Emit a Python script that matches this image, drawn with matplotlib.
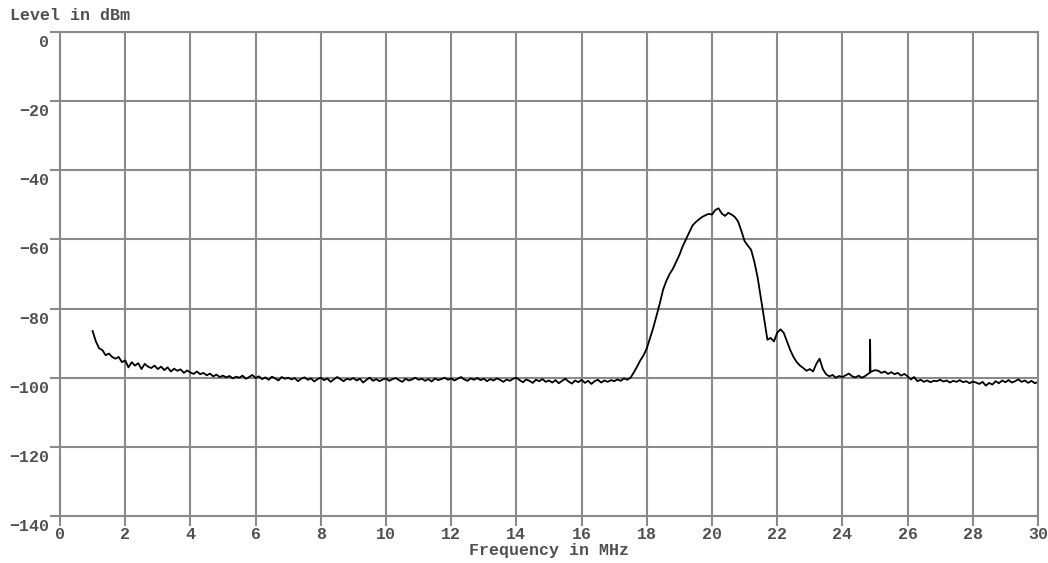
import numpy as np
import matplotlib
matplotlib.use("Agg")
import matplotlib.pyplot as plt
from matplotlib.transforms import ScaledTranslation

# ---- data ----
freq_start, freq_step = 1.0, 0.1
level = [
    # 1.0-2.0
    -86.5, -89.5, -91.5, -92.0, -93.5, -93.0, -94.0, -94.5, -94.0, -95.5, -95.0,
    # 2.1-3.0
    -97.0, -95.5, -96.5, -95.8, -97.5, -96.0, -96.8, -97.2, -96.5, -97.5,
    # 3.1-4.0
    -96.8, -97.8, -97.0, -98.2, -97.4, -98.0, -97.6, -98.6, -97.9, -98.5,
    # 4.1-5.0
    -98.9, -98.2, -99.0, -98.6, -99.3, -98.8, -99.6, -99.1, -99.8, -99.4,
    # 5.1-6.0
    -99.9, -99.5, -100.2, -99.7, -100.0, -99.4, -100.3, -99.8, -99.2, -100.1,
    # 6.1-7.0
    -99.6, -100.4, -99.9, -100.6, -99.7, -100.2, -100.8, -99.8, -100.3, -100.0,
    # 7.1-8.0
    -100.5, -100.1, -101.0, -100.3, -99.9, -100.6, -100.2, -101.1, -100.4, -100.0,
    # 8.1-9.0
    -100.7, -100.2, -101.2, -100.5, -99.8, -100.4, -101.0, -100.3, -100.6, -100.1,
    # 9.1-10.0
    -100.8, -100.3, -101.4, -100.6, -100.0, -100.9, -100.4, -101.0, -100.5, -100.2,
    # 10.1-11.0
    -100.9, -100.4, -100.1, -100.7, -101.2, -100.3, -100.8, -100.5, -100.0, -100.6,
    # 11.1-12.0
    -100.3, -100.9, -100.4, -101.1, -100.2, -100.7, -100.4, -100.0, -100.6, -100.2,
    # 12.1-13.0
    -100.8, -100.3, -99.8, -100.5, -100.9, -100.2, -100.6, -100.1, -100.7, -100.3,
    # 13.1-14.0
    -101.0, -100.4, -100.8, -100.2, -100.6, -101.2, -100.5, -100.9, -100.3, -100.0,
    # 14.1-15.0
    -100.7, -101.3, -100.5, -100.9, -101.5, -100.6, -101.0, -100.4, -101.2, -100.8,
    # 15.1-16.0
    -101.4, -100.7, -101.6, -100.9, -100.3, -101.1, -101.7, -100.8, -101.3, -100.6,
    # 16.1-17.0
    -101.5, -100.9, -101.8, -101.0, -100.6, -101.4, -100.8, -101.2, -100.7, -101.0,
    # 17.1-18.0
    -100.5, -100.9, -100.2, -100.6, -100.0, -98.5, -96.8, -95.0, -93.5, -91.5,
    # 18.1-19.0
    -88.5, -85.5, -82.0, -78.5, -74.5, -72.0, -70.0, -68.5, -66.5, -64.5,
    # 19.1-20.0
    -62.0, -60.0, -58.0, -56.0, -55.0, -54.2, -53.5, -53.0, -52.6, -52.8,
    # 20.1-21.0
    -51.5, -51.0, -52.5, -53.2, -52.3, -52.8, -53.5, -54.8, -57.5, -60.5,
    # 21.1-22.0
    -61.8, -63.0, -66.5, -71.0, -77.0, -83.0, -89.0, -88.5, -89.5, -87.0,
    # 22.1-23.0
    -86.0, -87.0, -89.5, -92.0, -94.0, -95.5, -96.5, -97.2, -98.0, -97.5,
    # 23.1-24.0
    -98.2, -96.0, -94.5, -97.5, -99.0, -99.6, -99.2, -100.0, -99.5, -99.8,
    # 24.1-25.0
    -99.3, -98.8, -99.6, -99.9, -99.4, -100.0, -99.5, -98.8, -98.2, -97.8,
    # 25.1-26.0
    -98.0, -98.6, -98.2, -98.9, -98.4, -99.0, -98.6, -99.4, -98.9, -99.6,
    # 26.1-27.0
    -100.5, -99.8, -101.0, -100.6, -101.2, -100.8, -101.3, -100.9, -101.0, -100.6,
    # 27.1-28.0
    -101.1, -100.8, -101.4, -100.9, -101.2, -100.7, -101.3, -101.0, -101.6, -101.1,
    # 28.1-29.0
    -101.4, -101.8, -101.2, -102.3, -101.5, -102.0, -101.0, -101.6, -100.8, -101.3,
    # 29.1-30.0
    -100.7, -101.4, -101.0, -100.5, -101.2, -100.8, -101.5, -100.9, -101.6, -101.2,
]
spike_freq = [24.84, 24.85, 24.86]
spike_level = [-98.6, -89.0, -98.4]

x_ticks = list(range(0, 31, 2))
y_ticks = list(range(-140, 1, 20))
x_label = "Frequency in MHz"
y_label = "Level in dBm"

# ---- build trace ----
freq = freq_start + freq_step * np.arange(len(level))
f_all = np.concatenate([freq, spike_freq])
l_all = np.concatenate([level, spike_level])
order = np.argsort(f_all)
f_all, l_all = f_all[order], l_all[order]

W, H = 1048, 563
fig = plt.figure(figsize=(W / 100, H / 100), dpi=100)
ax = fig.add_axes([60 / W, 1 - 516 / H, (1038 - 60) / W, (516 - 32) / H])

grid_c = "#8a8a8a"
text_c = "#505050"
font = {"family": "Liberation Mono", "size": 12, "color": text_c,
        "weight": "bold"}

ax.plot(f_all, l_all, color="black", lw=1.3)
ax.set_xlim(0, 30)
ax.set_ylim(-140, 0)
ax.set_xticks(x_ticks)
ax.set_yticks(y_ticks)
ax.grid(True, color=grid_c, lw=1.5)
ax.set_axisbelow(True)
for s in ax.spines.values():
    s.set_color(grid_c)
    s.set_linewidth(1.5)
ax.tick_params(axis="both", direction="out", length=7, width=1.5, color=grid_c,
               labelcolor=text_c, labelsize=12, pad=1)
for lab in ax.get_xticklabels() + ax.get_yticklabels():
    lab.set_fontfamily("Liberation Mono")
    lab.set_fontweight("bold")
off = ScaledTranslation(0, -9 / 100, fig.dpi_scale_trans)
for lab in ax.get_yticklabels():
    lab.set_transform(lab.get_transform() + off)

fig.text(549 / W, 1 - 551 / H, x_label, ha="center", va="center", **font)
fig.text(10 / W, 1 - 15 / H, y_label, ha="left", va="center", **font)

fig.savefig("out.png", dpi=100, facecolor="white")
